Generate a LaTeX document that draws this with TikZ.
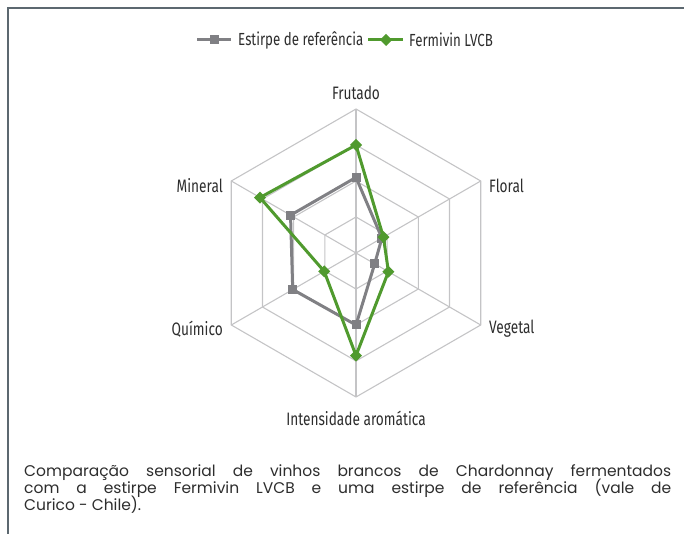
\documentclass[tikz,border=0pt]{standalone}
\usepackage{fontspec}
\setmainfont{Poppins}
\newfontfamily\labelfont[FakeStretch=0.76]{Fira Sans}
\usepackage{tikz}

\definecolor{refgray}{RGB}{128,128,132}
\definecolor{lvcbgreen}{RGB}{80,154,46}
\definecolor{gridgray}{RGB}{196,196,198}
\definecolor{framegray}{RGB}{92,104,112}
\definecolor{textgray}{RGB}{45,45,45}

\tikzset{
	grid line/.style={gridgray, line width=1.1pt, line join=miter},
	ref line/.style={refgray, line width=3pt, line join=round},
	lvcb line/.style={lvcbgreen, line width=3pt, line join=round},
	ref mark/.style={fill=refgray, inner sep=0pt, minimum size=9pt},
	lvcb mark/.style={fill=lvcbgreen, inner sep=0pt, minimum size=8.5pt, rotate=45},
	axis label/.style={font=\labelfont\fontsize{18}{21}\selectfont, text=textgray, inner sep=0pt},
	legend label/.style={font=\labelfont\fontsize{17.5}{21}\selectfont, text=textgray, inner sep=0pt, anchor=west},
	caption line/.style={font=\fontsize{15.5}{17}\selectfont, text=textgray, anchor=base west, inner sep=0pt}
}

\begin{document}
\begin{tikzpicture}[x=1pt, y=1pt]
	\useasboundingbox (0,0) rectangle (684,534);
	
	% frame
	\draw[framegray, line width=2pt] (8,0) -- (8,526) -- (684,526);
	
	% legend
	\coordinate (legrefA) at (197,494);
	\coordinate (legrefB) at (231,494);
	\draw[ref line] (legrefA) -- (legrefB);
	\node[ref mark] (legref) at (214,494) {};
	\node[legend label] (legreftext) at (238,494) {Estirpe de referência};
	\coordinate (leglvcbA) at (368,494);
	\coordinate (leglvcbB) at (403,494);
	\draw[lvcb line] (leglvcbA) -- (leglvcbB);
	\node[lvcb mark] (leglvcb) at (386,494) {};
	\node[legend label] (leglvcbtext) at (409,494) {Fermivin LVCB};
	
	\begin{scope}[shift={(356,281)}]
		\coordinate (centre) at (0,0);
		
		% grid
		\foreach \r in {36,72,108,144}
		\draw[grid line] (90:\r) -- (30:\r) -- (-30:\r) -- (-90:\r) -- (-150:\r) -- (150:\r) -- cycle;
		\foreach \i in {1,...,6}
		\coordinate (spoke\i) at ({150-60*\i}:144);
		\foreach \i in {1,...,6}
		\draw[grid line] (centre) -- (spoke\i);
		
		% data
		\foreach \v [count=\i] in {2.1, 0.83, 0.6, 2.0, 2.03, 2.1}
		\coordinate (ref\i) at ({150-60*\i}:{36*\v});
		\foreach \v [count=\i] in {3.0, 0.88, 1.04, 2.85, 1.02, 3.08}
		\coordinate (lvcb\i) at ({150-60*\i}:{36*\v});
		
		\draw[ref line] (ref1) -- (ref2) -- (ref3) -- (ref4) -- (ref5) -- (ref6) -- cycle;
		\foreach \i in {1,...,6}
		\node[ref mark] (refm\i) at (ref\i) {};
		
		\draw[lvcb line] (lvcb1) -- (lvcb2) -- (lvcb3) -- (lvcb4) -- (lvcb5) -- (lvcb6) -- cycle;
		\foreach \i in {1,...,6}
		\node[lvcb mark] (lvcbm\i) at (lvcb\i) {};
		
		% axis names
		\node[axis label] (frutado) at (0,160) {Frutado};
		\node[axis label, anchor=west] (floral) at (133,67) {Floral};
		\node[axis label, anchor=west] (vegetal) at (133,-76) {Vegetal};
		\node[axis label] (intensidade) at (0,-165) {Intensidade aromática};
		\node[axis label, anchor=east] (quimico) at (-133,-76) {Químico};
		\node[axis label, anchor=east] (mineral) at (-133,67) {Mineral};
	\end{scope}
	
	% caption
	\node[caption line] (cap1) at (24,57) {\makebox[647pt][s]{Comparação sensorial de vinhos brancos de Chardonnay fermentados}};
	\node[caption line] (cap2) at (24,40) {\makebox[647pt][s]{com a estirpe Fermivin LVCB e uma estirpe de referência (vale de}};
	\node[caption line] (cap3) at (24,23) {Curico - Chile).};
\end{tikzpicture}
\end{document}
